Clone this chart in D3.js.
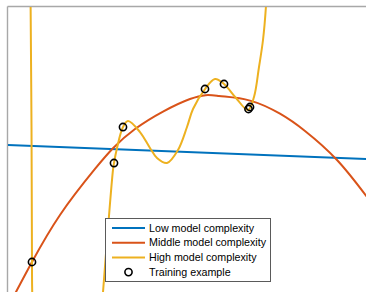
<!DOCTYPE html>
<html>
<head>
<meta charset="utf-8">
<script src="https://cdn.jsdelivr.net/npm/d3@7"></script>
<style>
body { margin:0; background:#fff; }
</style>
</head>
<body>
<div id="chart-area"></div>
<script>
// values (x in 0..10, y in 0..8 plot units)
var lowX = [0, 10];
var lowY = [4.11, 3.72];

var midX = [0, 0.694, 1.472, 2.444, 3.556, 5.083, 5.889, 6.75, 7.583, 8.278, 9.167, 10];
var midY = [-0.476, 0.839, 2.154, 3.441, 4.559, 5.399, 5.483, 5.354, 4.987, 4.503, 3.692, 2.657];

var highX = [0.647, 0.656, 0.681, 0.694, 0.706, 1.611, 2.583, 2.667, 2.806, 2.944, 2.972, 3.056, 3.222, 3.361,
	3.694, 3.972, 4.167, 4.444, 4.75, 5.0, 5.167, 5.5, 5.778, 6.028, 6.361, 6.694, 6.861, 7.0, 7.111, 7.194, 7.25];
var highY = [9.287, 8.0, 4.531, 0.839, -0.224, -19.8, -1.063, 0, 1.79, 3.413, 3.608, 4.028, 4.615, 4.783,
	4.475, 4.028, 3.748, 3.608, 3.972, 4.615, 5.119, 5.678, 5.958, 5.818, 5.427, 5.091, 5.455, 6.294, 7.049, 8.0, 9.287];

var trainX = [0.694, 2.972, 3.222, 5.5, 6.028, 6.708, 6.75];
var trainY = [0.839, 3.608, 4.615, 5.678, 5.818, 5.119, 5.175];

var legendLabels = ["Low model complexity", "Middle model complexity", "High model complexity", "Training example"];
var colors = ["#0072BD", "#D95319", "#EDB120"];

var width = 366;
var height = 292;

var svg = d3.select("#chart-area")
	.append("svg")
		.attr("width", width)
		.attr("height", height);

var x = d3.scaleLinear().domain([0, 10]).range([7, 367]);
var y = d3.scaleLinear().domain([0, 8]).range([292, 6]);

function pts(xs, ys){
	return xs.map(function(v, i){ return {x:v, y:ys[i]}; });
}

// axes box: only top and left edges are inside the picture
svg.append("g")
	.attr("transform", "translate(0," + y(8) + ")")
	.call(d3.axisTop(x).ticks(0).tickSizeOuter(0))
	.call(function(g){ g.select(".domain").attr("stroke", "#a8a8a8").attr("stroke-width", 1.4); });

svg.append("g")
	.attr("transform", "translate(" + x(0) + ",0)")
	.call(d3.axisLeft(y).ticks(0).tickSizeOuter(0))
	.call(function(g){ g.select(".domain").attr("stroke", "#a8a8a8").attr("stroke-width", 1.4); });

svg.append("clipPath")
	.attr("id", "clip")
	.append("rect")
		.attr("x", x(0) + 1)
		.attr("y", y(8) + 1)
		.attr("width", x(10) - x(0))
		.attr("height", y(0) - y(8));

var plot = svg.append("g").attr("clip-path", "url(#clip)");

var line = d3.line()
	.x(function(d){ return x(d.x); })
	.y(function(d){ return y(d.y); });

plot.append("path")
	.datum(pts(lowX, lowY))
	.attr("fill", "none")
	.attr("stroke", colors[0])
	.attr("stroke-width", 2)
	.attr("d", line);

plot.append("path")
	.datum(pts(midX, midY))
	.attr("fill", "none")
	.attr("stroke", colors[1])
	.attr("stroke-width", 2)
	.attr("d", line.curve(d3.curveNatural));

plot.append("path")
	.datum(pts(highX, highY))
	.attr("fill", "none")
	.attr("stroke", colors[2])
	.attr("stroke-width", 2)
	.attr("d", line.curve(d3.curveCatmullRom.alpha(0.5)));

plot.selectAll("circle")
	.data(pts(trainX, trainY))
	.enter().append("circle")
		.attr("cx", function(d){ return x(d.x); })
		.attr("cy", function(d){ return y(d.y); })
		.attr("r", 3.6)
		.attr("fill", "none")
		.attr("stroke", "#000")
		.attr("stroke-width", 1.6);

// legend
var legend = svg.append("g").attr("transform", "translate(105.5,218.5)");

legend.append("rect")
	.attr("width", 165)
	.attr("height", 63)
	.attr("fill", "#fff")
	.attr("stroke", "#5a5a5a")
	.attr("stroke-width", 1);

var rows = legend.selectAll(".row")
	.data(legendLabels)
	.enter().append("g")
		.attr("class", "row")
		.attr("transform", function(d, i){ return "translate(0," + (9.5 + i * 14.7) + ")"; });

rows.filter(function(d, i){ return i < 3; })
	.append("line")
		.attr("x1", 6.5)
		.attr("x2", 39.5)
		.attr("stroke", function(d, i){ return colors[i]; })
		.attr("stroke-width", 2);

rows.filter(function(d, i){ return i == 3; })
	.append("circle")
		.attr("cx", 23)
		.attr("r", 3.6)
		.attr("fill", "none")
		.attr("stroke", "#000")
		.attr("stroke-width", 1.6);

rows.append("text")
	.attr("x", 43.5)
	.attr("dy", "0.35em")
	.attr("font-family", "Liberation Sans, Arial, sans-serif")
	.attr("font-size", "10.7px")
	.attr("fill", "#000")
	.text(function(d){ return d; });
</script>
</body>
</html>
